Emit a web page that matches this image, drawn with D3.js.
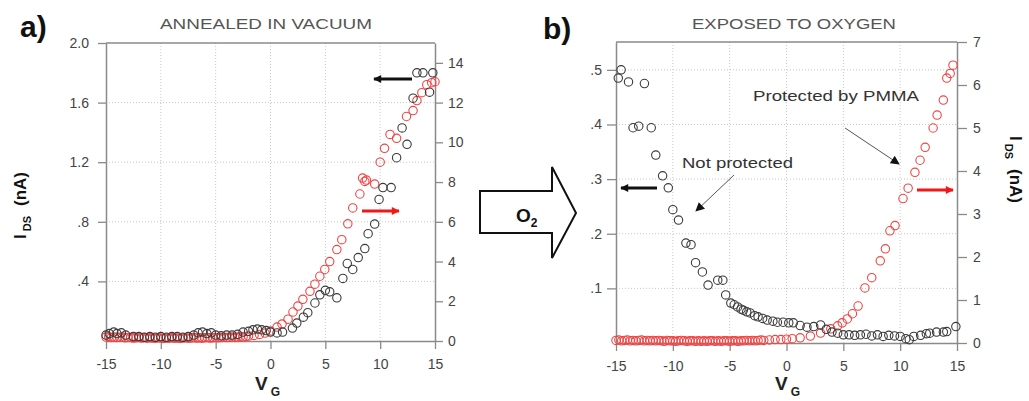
<!DOCTYPE html>
<html>
<head>
<meta charset="utf-8">
<script src="https://cdn.jsdelivr.net/npm/d3@7"></script>
<style>
  body { margin: 0; background: #fff; }
  svg { display: block; }
  text { font-family: "Liberation Sans", Arial, sans-serif; }
</style>
</head>
<body>
<svg id="chart" width="1029" height="401"></svg>
<script>
// ---- data ----
// panel a, annealed in vacuum: black = left axis (nA), red = right axis (nA)
const vgABlack = [-15, -14.7, -14.3, -14, -13.6, -13.2, -12.5, -12, -11.5, -11, -10.5, -10, -9.5, -9, -8.5, -8, -7.5, -7, -6.6, -6.2, -5.8, -5.4, -5, -4.5, -4, -3.5, -3, -2.5, -2, -1.6, -1.2, -0.8, -0.4, 0,
  0.6, 1.1, 2.0, 2.4, 3.0, 3.4, 4.05, 4.5, 5.0, 5.4, 6.05, 6.6, 7.0, 7.5, 8.0, 8.6, 8.9, 9.5, 9.9, 10.25, 11.0, 11.5, 12.0, 12.45, 13.0, 13.35, 13.9, 14.5, 14.8]
const iABlack = [0.04, 0.05, 0.06, 0.05, 0.055, 0.04, 0.03, 0.03, 0.025, 0.03, 0.025, 0.03, 0.025, 0.03, 0.03, 0.025, 0.03, 0.04, 0.055, 0.06, 0.05, 0.055, 0.04, 0.035, 0.04, 0.04, 0.045, 0.06, 0.065, 0.075, 0.08, 0.075, 0.07, 0.06,
  0.054, 0.06, 0.087, 0.12, 0.16, 0.19, 0.255, 0.31, 0.34, 0.33, 0.29, 0.42, 0.52, 0.48, 0.56, 0.62, 0.72, 0.785, 0.95, 1.03, 1.03, 1.23, 1.43, 1.32, 1.63, 1.8, 1.8, 1.67, 1.8]

const vgARed = [-15, -14.75, -14.5, -14.25, -14, -13.75, -13.5, -13.25, -13, -12.75, -12.5, -12.25, -12, -11.75, -11.5, -11.25, -11, -10.75, -10.5, -10.25, -10, -9.75, -9.5, -9.25, -9, -8.75, -8.5, -8.25, -8, -7.75, -7.5, -7.25, -7, -6.75, -6.5, -6.25, -6, -5.75, -5.5, -5.25, -5, -4.75, -4.5, -4.25, -4, -3.75, -3.5, -3.25, -3, -2.75, -2.5, -2.25, -2, -1.5, -1, -0.5,
  0, 0.6, 1.05, 1.6, 2.05, 2.5, 2.95, 3.6, 4.05, 4.5, 4.95, 5.4, 6.05, 6.5, 7.05, 7.5, 8.15, 8.4, 8.6, 8.75, 9.5, 10.0, 10.4, 10.9, 11.5, 12.4, 13.0, 13.35, 13.8, 14.25, 14.7, 15]
const iARed = [0.2, 0.22, 0.18, 0.2, 0.17, 0.19, 0.2, 0.16, 0.18, 0.17, 0.15, 0.16, 0.18, 0.15, 0.17, 0.14, 0.16, 0.15, 0.14, 0.16, 0.15, 0.13, 0.15, 0.14, 0.16, 0.14, 0.15, 0.13, 0.15, 0.16, 0.14, 0.15, 0.17, 0.15, 0.16, 0.14, 0.16, 0.17, 0.15, 0.16, 0.18, 0.16, 0.17, 0.19, 0.17, 0.18, 0.2, 0.18, 0.2, 0.22, 0.2, 0.23, 0.25, 0.28, 0.33, 0.4,
  0.5, 0.7, 0.85, 1.1, 1.46, 1.76, 2.1, 2.5, 2.86, 3.26, 3.6, 4.0, 4.6, 5.1, 5.9, 6.7, 7.4, 8.2, 8.03, 8.1, 7.9, 9.0, 9.7, 10.4, 10.2, 11.3, 11.6, 12.1, 12.5, 12.9, 13.0, 13.05]

// panel b, exposed to oxygen: black = not protected (left axis, nA), red = PMMA protected (right axis, nA)
const vgBBlack = [-14.8, -14.55, -13.9, -12.5, -13.5, -13.0, -11.9, -11.5, -10.9, -10.4, -10.0, -9.5, -8.85, -8.4, -8.0, -7.4, -6.9, -6.05, -5.6, -5.35, -4.9, -4.6, -4.3, -4.0, -3.8, -3.5, -3.2, -2.8, -2.5, -2.1, -1.7, -1.2, -0.8, -0.3,
  0.2, 0.6, 1.2, 1.8, 2.4, 3.0, 3.5, 4.0, 4.5, 5.0, 5.5, 6.0, 6.5, 7.0, 7.5, 8.0, 8.5, 9.0, 9.5, 10.0, 10.5, 10.8, 11.2, 11.8, 12.3, 12.6, 13.2, 13.8, 14.1, 14.9]
const iBBlack = [0.485, 0.5, 0.478, 0.475, 0.394, 0.397, 0.394, 0.344, 0.306, 0.284, 0.244, 0.225, 0.183, 0.18, 0.147, 0.13, 0.106, 0.115, 0.115, 0.088, 0.073, 0.07, 0.066, 0.062, 0.06, 0.057, 0.055, 0.05, 0.048, 0.045, 0.042, 0.04, 0.038, 0.038,
  0.037, 0.037, 0.032, 0.029, 0.03, 0.033, 0.025, 0.02, 0.018, 0.015, 0.015, 0.014, 0.015, 0.016, 0.013, 0.015, 0.012, 0.014, 0.013, 0.012, 0.008, 0.006, 0.012, 0.014, 0.017, 0.018, 0.02, 0.02, 0.021, 0.03]

const vgBRed = [-15, -14.75, -14.5, -14.25, -14, -13.75, -13.5, -13.25, -13, -12.75, -12.5, -12.25, -12, -11.75, -11.5, -11.25, -11, -10.75, -10.5, -10.25, -10, -9.75, -9.5, -9.25, -9, -8.75, -8.5, -8.25, -8, -7.75, -7.5, -7.25, -7, -6.75, -6.5, -6.25, -6, -5.75, -5.5, -5.25, -5, -4.75, -4.5, -4.25, -4, -3.75, -3.5, -3.25, -3, -2.75, -2.5, -2.25, -2, -1.5, -1, -0.5,
  0, 0.5, 1.2, 2.1, 3.0, 3.9, 4.5, 4.9, 5.35, 5.8, 6.3, 6.9, 7.5, 8.25, 8.7, 9.1, 9.55, 10.25, 10.7, 11.3, 11.75, 12.2, 12.9, 13.25, 13.8, 14.1, 14.4, 14.65]
const iBRed = [0.06, 0.07, 0.05, 0.06, 0.07, 0.05, 0.06, 0.05, 0.06, 0.07, 0.05, 0.06, 0.05, 0.06, 0.05, 0.06, 0.05, 0.04, 0.06, 0.05, 0.05, 0.04, 0.05, 0.06, 0.05, 0.04, 0.05, 0.05, 0.04, 0.05, 0.04, 0.05, 0.04, 0.05, 0.05, 0.04, 0.05, 0.04, 0.05, 0.05, 0.04, 0.05, 0.05, 0.04, 0.05, 0.05, 0.06, 0.05, 0.06, 0.05, 0.06, 0.07, 0.06, 0.07, 0.08, 0.08,
  0.09, 0.1, 0.12, 0.16, 0.23, 0.33, 0.4, 0.47, 0.56, 0.68, 0.86, 1.28, 1.52, 1.91, 2.19, 2.61, 2.73, 3.36, 3.6, 3.97, 4.25, 4.55, 5.0, 5.3, 5.65, 6.16, 6.27, 6.46]

const vgTicks = [-15, -10, -5, 0, 5, 10, 15]
const leftTicksA = [0.4, 0.8, 1.2, 1.6, 2.0]
const rightTicksA = [0, 2, 4, 6, 8, 10, 12, 14]
const leftTicksB = [0.1, 0.2, 0.3, 0.4, 0.5]
const rightTicksB = [0, 1, 2, 3, 4, 5, 6, 7]

const svg = d3.select('#chart')

const BLACK = '#3a3a3a'
const RED = '#f04444'
const AXIS = '#8a8a8a'

const defs = svg.append('defs')
function marker(id, color, w, h) {
  defs.append('marker')
    .attr('id', id)
    .attr('markerUnits', 'userSpaceOnUse')
    .attr('viewBox', '0 0 10 10')
    .attr('refX', 9).attr('refY', 5)
    .attr('markerWidth', w).attr('markerHeight', h)
    .attr('orient', 'auto')
    .append('path')
    .attr('d', 'M0,0L10,5L0,10Z')
    .attr('fill', color)
}
marker('headBlack', '#111', 9, 8)
marker('headRed', '#f01818', 9, 8)
marker('headThin', '#111', 10, 9)

// plain hyphen minus like the original, and ".8" style decimals
const fmtInt = (d) => String(d)
const fmtDot = (d) => d3.format('.1f')(d).replace(/^0/, '')

function drawPanel(cfg) {
  const g = svg.append('g')
  const x = d3.scaleLinear().domain([-15, 15]).range([cfg.x0, cfg.x1])
  const yL = d3.scaleLinear().domain(cfg.leftDomain).range([cfg.y0, cfg.y1])
  const yR = d3.scaleLinear().domain(cfg.rightDomain).range([cfg.y0, cfg.y1])

  // dotted grid
  g.append('g').selectAll('line.v')
    .data(vgTicks.slice(1, -1))
    .join('line')
    .attr('x1', (d) => x(d)).attr('x2', (d) => x(d))
    .attr('y1', cfg.y1).attr('y2', cfg.y0)
    .attr('stroke', '#c8c8c8').attr('stroke-dasharray', '1,2')
  g.append('g').selectAll('line.h')
    .data(cfg.leftTicks.filter((d) => yL(d) > cfg.y1 + 2))
    .join('line')
    .attr('x1', cfg.x0).attr('x2', cfg.x1)
    .attr('y1', (d) => yL(d)).attr('y2', (d) => yL(d))
    .attr('stroke', '#c8c8c8').attr('stroke-dasharray', '1,2')

  // frame top
  g.append('line')
    .attr('x1', cfg.x0).attr('x2', cfg.x1)
    .attr('y1', cfg.y1).attr('y2', cfg.y1)
    .attr('stroke', AXIS).attr('stroke-width', 1.5)

  const styleAxis = (sel) => {
    sel.select('.domain').attr('stroke', AXIS).attr('stroke-width', 1.5)
    sel.selectAll('.tick line').attr('stroke', AXIS).attr('stroke-width', 1.3)
    sel.selectAll('.tick text').attr('fill', '#444').attr('font-size', 14)
      .attr('font-family', '"Liberation Sans", Arial, sans-serif')
  }

  g.append('g')
    .attr('transform', `translate(${cfg.x0},0)`)
    .call(d3.axisLeft(yL).tickValues(cfg.leftTicks).tickFormat(cfg.leftFormat)
      .tickSize(cfg.leftTick).tickPadding(cfg.leftPad).tickSizeOuter(0))
    .call(styleAxis)

  g.append('g')
    .attr('transform', `translate(${cfg.x1},0)`)
    .call(d3.axisRight(yR).tickValues(cfg.rightTicks).tickFormat(fmtInt)
      .tickSize(cfg.rightTick).tickPadding(cfg.rightPad).tickSizeOuter(0))
    .call(styleAxis)

  g.append('g')
    .attr('transform', `translate(0,${cfg.y0})`)
    .call(d3.axisBottom(x).tickValues(vgTicks).tickFormat(fmtInt)
      .tickSize(8).tickPadding(10).tickSizeOuter(0))
    .call(styleAxis)

  // points: black on left axis, red on right axis
  g.append('g').selectAll('circle')
    .data(cfg.redX.map((v, i) => [v, cfg.redY[i]]))
    .join('circle')
    .attr('cx', (d) => x(d[0])).attr('cy', (d) => yR(d[1]))
    .attr('r', 4.2).attr('fill', 'none')
    .attr('stroke', RED).attr('stroke-width', 1.1)
  g.append('g').selectAll('circle')
    .data(cfg.blackX.map((v, i) => [v, cfg.blackY[i]]))
    .join('circle')
    .attr('cx', (d) => x(d[0])).attr('cy', (d) => yL(d[1]))
    .attr('r', 4.2).attr('fill', 'none')
    .attr('stroke', BLACK).attr('stroke-width', 1.1)

  // titles and labels
  svg.append('text')
    .attr('x', cfg.titleX).attr('y', 29)
    .attr('text-anchor', 'middle')
    .attr('font-size', 15).attr('fill', '#555')
    .attr('textLength', cfg.titleLen).attr('lengthAdjust', 'spacingAndGlyphs')
    .text(cfg.title)

  svg.append('text')
    .attr('x', cfg.letterX).attr('y', cfg.letterY)
    .attr('font-size', 30).attr('font-weight', 'bold').attr('fill', '#111')
    .text(cfg.letter)

  const vg = svg.append('text')
    .attr('x', cfg.vgX).attr('y', 390)
    .attr('font-size', 19).attr('font-weight', 'bold').attr('fill', '#222')
  vg.append('tspan').text('V')
  vg.append('tspan').attr('font-size', 12).attr('dx', 3).attr('dy', 6).text('G')

  return { x, yL, yR }
}

drawPanel({
  x0: 106, x1: 435, y0: 341, y1: 43,
  leftDomain: [0, 2.0], rightDomain: [0, 15],
  leftTicks: leftTicksA, rightTicks: rightTicksA, leftFormat: fmtDot,
  leftTick: 8, leftPad: 9, rightTick: 8, rightPad: 5,
  blackX: vgABlack, blackY: iABlack, redX: vgARed, redY: iARed,
  title: 'ANNEALED IN VACUUM', titleX: 266, titleLen: 212,
  letter: 'a)', letterX: 20, letterY: 37, vgX: 255
})

drawPanel({
  x0: 616, x1: 957, y0: 343, y1: 42,
  leftDomain: [0, 0.551], rightDomain: [0, 7],
  leftTicks: leftTicksB, rightTicks: rightTicksB, leftFormat: fmtDot,
  leftTick: 9, leftPad: 5, rightTick: 10, rightPad: 6,
  blackX: vgBBlack, blackY: iBBlack, redX: vgBRed, redY: iBRed,
  title: 'EXPOSED TO OXYGEN', titleX: 794, titleLen: 204,
  letter: 'b)', letterX: 543, letterY: 39, vgX: 775
})

// I_DS axis titles
function idsLabel(tx, ty, rot) {
  const t = svg.append('text')
    .attr('transform', `translate(${tx},${ty}) rotate(${rot})`)
    .attr('font-weight', 'bold').attr('fill', '#111').attr('font-size', 17)
  t.append('tspan').text('I')
  t.append('tspan').attr('font-size', 11).attr('dx', 3).attr('dy', 5).text('DS')
  t.append('tspan').attr('dx', 10).attr('dy', -5).text('(nA)')
}
idsLabel(26, 239, -90)
idsLabel(1010, 136, 90)

// axis pointer arrows
function pointer(x1, y1, x2, y2, color, head) {
  svg.append('line')
    .attr('x1', x1).attr('y1', y1).attr('x2', x2).attr('y2', y2)
    .attr('stroke', color).attr('stroke-width', 3)
    .attr('marker-end', `url(#${head})`)
}
pointer(412, 79, 374, 79, '#111', 'headBlack')
pointer(362, 211, 399, 211, '#f01818', 'headRed')
pointer(657, 188, 621, 188, '#111', 'headBlack')
pointer(917, 190, 953, 190, '#f01818', 'headRed')

// annotations in panel b
svg.append('text').attr('x', 753).attr('y', 101)
  .attr('font-size', 15).attr('fill', '#333')
  .attr('textLength', 166).attr('lengthAdjust', 'spacingAndGlyphs')
  .text('Protected by PMMA')
svg.append('text').attr('x', 682).attr('y', 168)
  .attr('font-size', 15).attr('fill', '#333')
  .attr('textLength', 111).attr('lengthAdjust', 'spacingAndGlyphs')
  .text('Not protected')
svg.append('line').attr('x1', 845).attr('y1', 128).attr('x2', 899).attr('y2', 164)
  .attr('stroke', '#555').attr('stroke-width', 1).attr('marker-end', 'url(#headThin)')
svg.append('line').attr('x1', 734).attr('y1', 175).attr('x2', 696).attr('y2', 211)
  .attr('stroke', '#555').attr('stroke-width', 1).attr('marker-end', 'url(#headThin)')

// big O2 block arrow between panels
svg.append('path')
  .attr('d', 'M480,191L552,191L552,167L576,213L552,258L552,233L480,233Z')
  .attr('fill', '#fff').attr('stroke', '#111').attr('stroke-width', 2)
  .attr('stroke-linejoin', 'miter')
const o2 = svg.append('text').attr('x', 516).attr('y', 222)
  .attr('font-size', 19).attr('font-weight', 'bold').attr('fill', '#111')
o2.append('tspan').text('O')
o2.append('tspan').attr('font-size', 12).attr('dy', 5).text('2')
</script>
</body>
</html>
